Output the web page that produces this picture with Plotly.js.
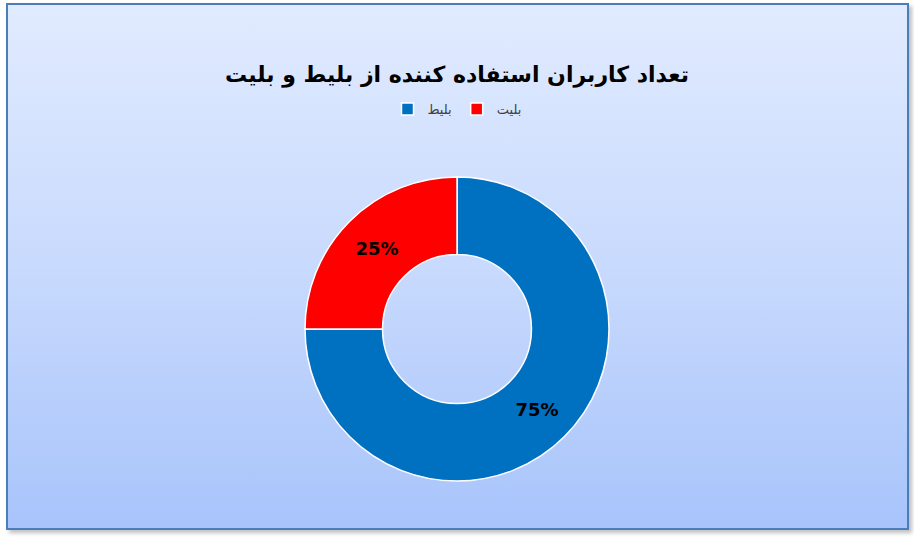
<!DOCTYPE html>
<html>
<head>
<meta charset="utf-8">
<script src="https://cdn.plot.ly/plotly-3.0.1.min.js"></script>
<style>
    body { margin: 0; background: #ffffff; }
    #frame {
        position: absolute;
        left: 6px; top: 3px;
        width: 899px; height: 523px;
        border: 2px solid #4a7ebb;
        background: linear-gradient(to bottom, #e1ebff 0%, #c8dafd 50%, #a8c4fb 100%);
        box-shadow: 3px 3px 4px rgba(0, 0, 0, 0.25);
    }
    #chart { position: absolute; left: 0; top: 0; width: 914px; height: 539px; }
</style>
</head>
<body>
<div id="frame"></div>
<div id="chart"></div>
<script>
// Share of users of each spelling
const labels = ["بلیط", "بلیت"];
const values = [75, 25];
const colors = ["#0070c0", "#ff0000"];

const chartTitle = "تعداد کاربران استفاده کننده از بلیط و بلیت";

const data = [{
    type: "pie",
    labels: labels,
    values: values,
    hole: 0.49,
    sort: false,
    direction: "clockwise",
    rotation: 0,
    marker: { colors: colors, line: { color: "#ffffff", width: 1.5 } },
    textinfo: "percent",
    textposition: "inside",
    insidetextorientation: "horizontal",
    texttemplate: "%{percent:.0%}",
    textfont: { family: "DejaVu Sans", size: 18, color: "#000000", weight: "bold" },
    hoverinfo: "label+percent"
}];

const layout = {
    width: 914,
    height: 539,
    paper_bgcolor: "rgba(0,0,0,0)",
    plot_bgcolor: "rgba(0,0,0,0)",
    margin: { t: 177, b: 58, l: 50, r: 50 },
    title: {
        text: "<b>" + chartTitle + "</b>",
        font: { family: "DejaVu Sans", size: 22, color: "#000000" },
        x: 0.5, xanchor: "center",
        yref: "container", y: 1 - 74 / 539, yanchor: "middle"
    },
    showlegend: true,
    legend: {
        orientation: "h",
        xref: "container", x: 0.5, xanchor: "center",
        yref: "container", y: 1 - 109 / 539, yanchor: "middle",
        font: { family: "DejaVu Sans", size: 13, color: "#404040" },
        itemwidth: 30,
        bgcolor: "rgba(0,0,0,0)"
    }
};

Plotly.newPlot("chart", data, layout, { displayModeBar: false });
</script>
</body>
</html>
